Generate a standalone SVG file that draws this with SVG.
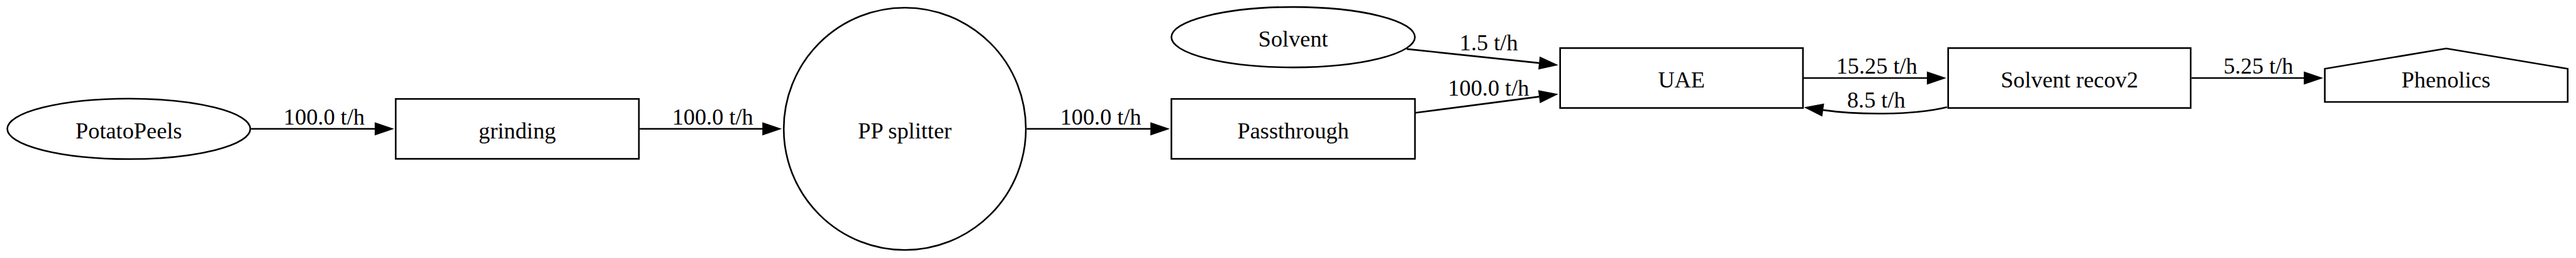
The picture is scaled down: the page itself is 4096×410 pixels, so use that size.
<svg xmlns="http://www.w3.org/2000/svg" width="4096" height="410" viewBox="0 0 4096 410">
<style>
.n{fill:#fff;stroke:#000;stroke-width:2.6}
.e{fill:none;stroke:#000;stroke-width:2.6}
.a{fill:#000;stroke:none}
text{font-family:"Liberation Serif","Times New Roman",serif;font-size:36.3px;fill:#000;text-anchor:middle}
</style>
<rect x="0" y="0" width="4096" height="410" fill="#fff"/>
<g id="connectors">
<g id="e1"><path class="e" d="M399.1 204.8H596"/><polygon class="a" points="626.8,204.8 595.8,194.3 595.8,215.3"/><text x="515.4" y="198.2">100.0 t/h</text></g>
<g id="e2"><path class="e" d="M1017.2 204.8H1213"/><polygon class="a" points="1243.2,204.8 1212.2,194.3 1212.2,215.3"/><text x="1133.2" y="198.2">100.0 t/h</text></g>
<g id="e3"><path class="e" d="M1632.5 204.8H1830"/><polygon class="a" points="1860.2,204.8 1829.2,194.3 1829.2,215.3"/><text x="1750.2" y="197.7">100.0 t/h</text></g>
<g id="e4"><path class="e" d="M2236.8 77.9L2447.1 100.1"/><polygon class="a" points="2477.9,103.4 2446.0,110.6 2448.2,89.7"/><text x="2367.2" y="79.5">1.5 t/h</text></g>
<g id="e5"><path class="e" d="M2250.4 179.3L2447.2 153.6"/><polygon class="a" points="2477.9,149.6 2448.5,164.0 2445.8,143.2"/><text x="2366.9" y="152">100.0 t/h</text></g>
<g id="e6"><path class="e" d="M2868.1 124H3064"/><polygon class="a" points="3094.9,124 3063.9,113.5 3063.9,134.5"/><text x="2984.2" y="117.4">15.25 t/h</text></g>
<g id="e7"><path class="e" d="M3095.8 170.2C3040 184 2950 182.3 2899 174.9"/><polygon class="a" points="2868.3,170.5 2900.5,164.5 2897.5,185.3"/><text x="2983.3" y="170.9">8.5 t/h</text></g>
<g id="e8"><path class="e" d="M3484.6 124H3664"/><polygon class="a" points="3694.2,124 3663.2,113.5 3663.2,134.5"/><text x="3591" y="117.4">5.25 t/h</text></g>
</g>
<g id="PotatoPeels"><ellipse class="n" cx="204.8" cy="204.8" rx="193.2" ry="48"/><text x="204.8" y="219.6">PotatoPeels</text></g>
<g id="grinding"><rect class="n" x="629.2" y="157.2" width="386.7" height="95.2"/><text x="822.5" y="219.6">grinding</text></g>
<g id="PP_splitter"><circle class="n" cx="1438.7" cy="204.8" r="192.5"/><text x="1438.7" y="219.6">PP splitter</text></g>
<g id="Passthrough"><rect class="n" x="1862.6" y="157.2" width="387.3" height="95.2"/><text x="2056.2" y="219.6">Passthrough</text></g>
<g id="Solvent"><ellipse class="n" cx="2056.2" cy="59.1" rx="193.6" ry="48"/><text x="2056.2" y="73.9">Solvent</text></g>
<g id="UAE"><rect class="n" x="2480.7" y="76.4" width="386.1" height="95.2"/><text x="2673.7" y="138.8">UAE</text></g>
<g id="Solvent_recov2"><rect class="n" x="3097.7" y="76.4" width="385.6" height="95.2"/><text x="3290.5" y="138.8">Solvent recov2</text></g>
<g id="Phenolics"><polygon class="n" points="3696.6,162 3696.6,109.3 3889.7,77 4082.8,109.3 4082.8,162"/><text x="3889.2" y="138.8">Phenolics</text></g>
</svg>
